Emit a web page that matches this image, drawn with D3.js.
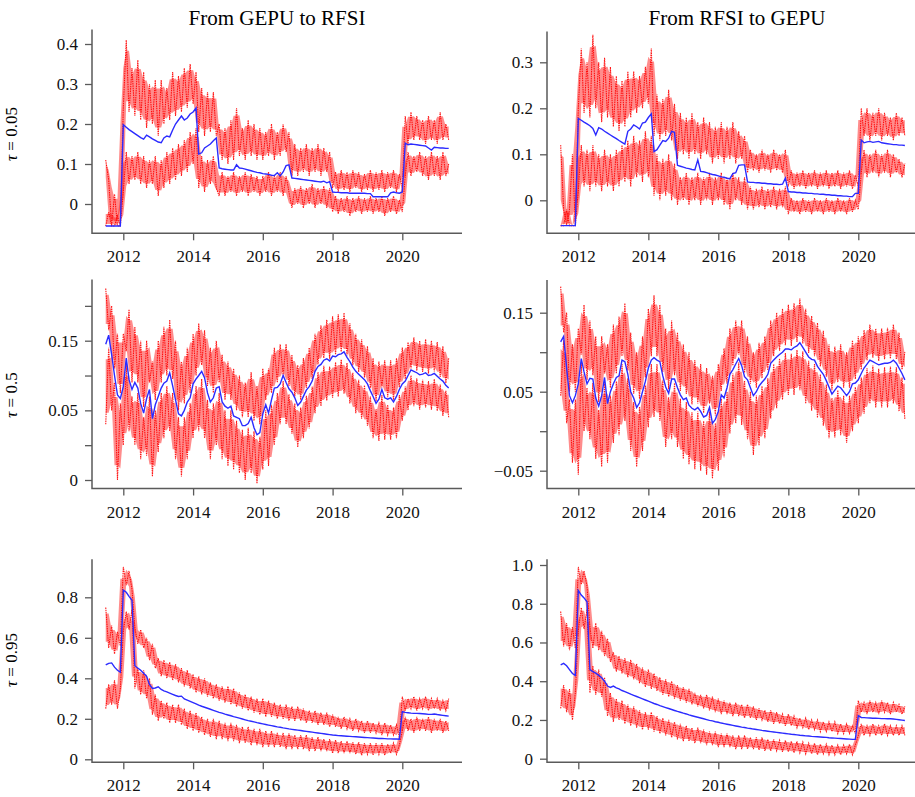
<!DOCTYPE html>
<html>
<head>
<meta charset="utf-8">
<script src="https://cdn.jsdelivr.net/npm/d3@7"></script>
<style>
  body { margin: 0; background: #fff; }
  text { font-family: "Liberation Serif", "Times New Roman", serif; }
</style>
</head>
<body>
<svg id="chart" width="915" height="797"></svg>
<script>
// monthly observations, Jul 2011 .. May 2021
var months = d3.timeMonth.range(new Date(2011, 6, 1), new Date(2021, 5, 1));
var colTitles = ["From GEPU to RFSI", "From RFSI to GEPU"];
var rowTaus = ["0.05", "0.5", "0.95"];
var yearTicks = [2012, 2014, 2016, 2018, 2020];

// ---- From GEPU to RFSI, tau = 0.05
var gr05Mid = [-.055,-.055,-.055,-.055,-.055,-.055,
  .198,.192,.186,.181,.176,.171, .166,.162,.172,.168,.163,.159,
  .155,.153,.165,.17,.168,.185, .2,.21,.22,.21,.215,.225,
  .23,.24,.125,.128,.14,.145, .15,.158,.165,.09,.088,.087,
  .086,.085,.085,.098,.09,.089, .087,.085,.083,.081,.079,.078,
  .076,.075,.074,.072,.071,.078, .07,.08,.096,.098,.065,.064,
  .063,.062,.061,.06,.059,.058, .057,.056,.055,.057,.053,.056,
  .03,.029,.029,.028,.028,.028, .027,.027,.027,.027,.027,.027,
  .026,.026,.018,.018,.018,.018, .018,.018,.028,.03,.028,.027,
  .03,.152,.148,.15,.149,.148, .147,.146,.145,.14,.135,.142,
  .141,.14,.14,.139,.139];
var gr05Hi = [.11,.06,-.055,.025,-.055,-.055,
  .24,.41,.23,.34,.22,.36, .21,.33,.19,.3,.2,.31,
  .17,.31,.2,.29,.21,.33, .22,.32,.23,.34,.24,.35,
  .25,.33,.18,.29,.17,.28, .18,.28,.17,.2,.11,.19,
  .1,.21,.11,.24,.12,.19, .11,.21,.12,.2,.11,.19,
  .11,.18,.12,.2,.11,.18, .12,.2,.13,.18,.07,.15,
  .07,.14,.08,.15,.07,.14, .08,.15,.07,.14,.08,.13,
  .04,.08,.03,.085,.035,.08, .03,.085,.04,.08,.03,.075,
  .035,.085,.03,.08,.035,.085, .03,.08,.04,.085,.03,.075,
  .04,.22,.15,.23,.16,.22, .16,.21,.15,.22,.16,.21,
  .15,.23,.16,.2,.16];
var gr05Lo = [-.055,-.02,-.055,-.055,-.03,-.055,
  .03,.13,.05,.12,.06,.13, .05,.12,.04,.11,.05,.12,
  .02,.11,.04,.13,.05,.14, .06,.15,.07,.16,.08,.18,
  .1,.19,.04,.12,.03,.11, .05,.12,.04,.02,.08,.02,
  .07,.03,.08,.02,.07,.03, .08,.02,.075,.03,.07,.02,
  .07,.03,.08,.02,.07,.03, .08,.02,.07,.03,-.01,.04,
  0,.045,-.01,.04,0,.05, -.01,.04,0,.045,-.01,.04,
  -.02,.02,-.025,.015,-.02,.02, -.03,.015,-.02,.02,-.025,.015,
  -.02,.02,-.025,.015,-.02,.02, -.03,.015,-.02,.02,-.025,.01,
  -.02,.07,.13,.07,.12,.08, .13,.07,.12,.06,.13,.07,
  .12,.06,.13,.07,.1];
var gr05Ticks = [0, 0.1, 0.2, 0.3, 0.4];
var gr05Labels = ["0", "0.1", "0.2", "0.3", "0.4"];

// ---- From RFSI to GEPU, tau = 0.05
var rg05Mid = [-.055,-.055,-.055,-.055,-.055,-.055,
  .178,.174,.17,.166,.162,.156, .142,.158,.155,.15,.146,.142,
  .138,.134,.13,.126,.122,.15, .155,.164,.16,.155,.168,.17,
  .18,.188,.106,.11,.12,.13, .128,.135,.15,.148,.076,.074,
  .072,.07,.069,.067,.066,.088, .063,.062,.06,.058,.056,.055,
  .053,.051,.05,.048,.047,.058, .06,.076,.077,.077,.04,.039,
  .039,.038,.038,.037,.037,.036, .036,.035,.035,.034,.035,.048,
  .019,.018,.018,.017,.017,.016, .016,.015,.015,.014,.014,.013,
  .013,.012,.012,.011,.011,.01, .01,.009,.009,.008,.008,.015,
  .015,.131,.125,.127,.128,.126, .127,.128,.125,.124,.123,.122,
  .121,.121,.12,.12,.119];
var rg05Hi = [.12,-.02,-.055,-.02,.1,-.055,
  .2,.33,.19,.3,.18,.36, .2,.3,.17,.31,.18,.29,
  .16,.27,.15,.26,.16,.28, .18,.28,.19,.27,.2,.29,
  .21,.33,.14,.23,.13,.22, .14,.24,.13,.21,.09,.19,
  .1,.18,.09,.19,.1,.17, .09,.18,.1,.17,.08,.16,
  .09,.17,.08,.16,.09,.17, .08,.15,.09,.14,.06,.11,
  .065,.1,.06,.11,.065,.1, .06,.11,.065,.1,.06,.11,
  .03,.065,.025,.06,.03,.065, .025,.06,.03,.065,.025,.06,
  .03,.065,.025,.06,.03,.065, .025,.06,.03,.065,.025,.055,
  .03,.2,.14,.2,.13,.19, .14,.2,.13,.19,.14,.18,
  .13,.19,.14,.18,.14];
var rg05Lo = [-.055,-.055,-.02,-.055,-.055,-.055,
  .02,.12,.03,.11,.02,.12, .03,.1,.02,.11,.03,.1,
  .02,.11,.03,.12,.04,.13, .03,.14,.05,.13,.04,.15,
  .05,.14,.01,.1,0,.09, .01,.1,0,.08,-.01,.05,
  0,.06,-.01,.05,0,.06, -.01,.05,0,.06,-.01,.05,
  0,.06,-.01,.05,-.02,.06, 0,.05,-.01,.05,-.02,.03,
  -.02,.025,-.015,.03,-.02,.025, -.015,.03,-.02,.025,-.015,.03,
  -.03,.005,-.025,0,-.03,.005, -.025,0,-.03,.005,-.025,0,
  -.03,.005,-.025,0,-.03,.005, -.025,0,-.03,.005,-.025,0,
  -.02,.06,.11,.05,.1,.06, .11,.05,.1,.06,.11,.05,
  .1,.06,.09,.05,.08];
var rg05Ticks = [0, 0.1, 0.2, 0.3];
var rg05Labels = ["0", "0.1", "0.2", "0.3"];

// ---- From GEPU to RFSI, tau = 0.5
var gr50Mid = [.145,.158,.13,.1,.072,.067,
  .084,.125,.094,.08,.09,.082, .06,.046,.067,.08,.038,.058,
  .07,.082,.089,.092,.104,.085, .065,.045,.042,.05,.062,.068,
  .088,.095,.1,.106,.097,.075, .062,.068,.082,.084,.062,.056,
  .053,.056,.042,.04,.038,.028, .028,.031,.04,.025,.015,.018,
  .045,.058,.046,.065,.082,.083, .088,.1,.09,.081,.076,.068,
  .057,.062,.07,.079,.084,.092, .106,.113,.116,.122,.124,.121,
  .128,.127,.13,.131,.134,.126, .12,.112,.106,.102,.098,.094,
  .088,.078,.07,.06,.066,.08, .068,.066,.068,.062,.07,.08,
  .088,.092,.1,.108,.106,.104, .101,.102,.104,.1,.101,.103,
  .099,.095,.092,.086,.082];
var gr50Hi = [.225,.165,.2,.11,.16,.075,
  .16,.135,.195,.09,.17,.09, .15,.055,.15,.09,.12,.065,
  .15,.09,.17,.1,.18,.095, .15,.05,.12,.06,.14,.075,
  .16,.1,.175,.115,.165,.085, .14,.075,.15,.09,.13,.065,
  .12,.065,.11,.05,.1,.04, .09,.04,.105,.035,.085,.03,
  .11,.065,.11,.075,.14,.09, .145,.1,.145,.085,.13,.07,
  .115,.065,.125,.082,.14,.095, .16,.116,.172,.125,.18,.124,
  .185,.13,.188,.134,.19,.129, .175,.115,.16,.105,.152,.097,
  .142,.082,.125,.063,.12,.083, .122,.069,.122,.065,.125,.083,
  .14,.095,.148,.11,.155,.107, .15,.105,.152,.103,.15,.106,
  .148,.098,.142,.089,.125];
var gr50Lo = [.03,.14,.05,.09,-.05,.06,
  0,.115,.02,.07,0,.075, -.02,.04,-.015,.07,-.045,.05,
  -.01,.075,.01,.085,.02,.075, -.02,.04,-.045,.04,-.02,.06,
  .01,.085,.02,.095,.01,.065, -.02,.06,0,.075,-.02,.05,
  -.03,.05,-.035,.035,-.04,.022, -.05,.025,-.04,.02,-.055,.012,
  -.035,.05,-.03,.058,0,.075, .03,.092,.03,.073,.016,.06,
  -.003,.054,.01,.071,.024,.084, .046,.105,.056,.114,.064,.113,
  .068,.119,.07,.123,.074,.118, .06,.104,.046,.094,.038,.086,
  .028,.07,.01,.052,.006,.072, .008,.058,.008,.054,.01,.072,
  .035,.084,.05,.1,.056,.096, .051,.094,.054,.092,.051,.095,
  .049,.087,.042,.078,.04];
var gr50Ticks = [-0.05, 0, 0.05, 0.1, 0.15, 0.2];
var gr50Labels = ["0", "", "0.05", "", "0.15", ""];

// ---- From RFSI to GEPU, tau = 0.5
var rg50Mid = [.113,.12,.08,.045,.036,.045,
  .06,.092,.075,.06,.067,.066, .042,.032,.045,.068,.035,.05,
  .06,.068,.07,.09,.088,.072, .05,.042,.03,.036,.05,.063,
  .08,.09,.093,.09,.088,.07, .056,.048,.066,.066,.055,.046,
  .04,.042,.033,.029,.027,.03, .025,.018,.02,.03,.01,.015,
  .025,.046,.042,.055,.072,.078, .085,.092,.083,.069,.065,.055,
  .045,.05,.057,.062,.066,.072, .086,.09,.094,.097,.1,.104,
  .104,.103,.106,.108,.112,.106, .1,.094,.091,.09,.082,.077,
  .072,.064,.056,.047,.052,.057, .055,.05,.045,.05,.06,.061,
  .065,.073,.08,.085,.09,.088, .086,.084,.085,.086,.086,.087,
  .09,.086,.08,.073,.065];
var rg50Hi = [.183,.125,.15,.05,.11,.05,
  .13,.097,.16,.065,.14,.071, .12,.037,.12,.073,.11,.055,
  .135,.073,.145,.095,.162,.077, .125,.047,.1,.041,.12,.068,
  .155,.095,.172,.095,.16,.075, .13,.053,.14,.071,.125,.051,
  .11,.047,.1,.034,.09,.035, .085,.023,.08,.035,.07,.02,
  .085,.051,.105,.06,.13,.083, .14,.097,.14,.074,.12,.06,
  .1,.055,.112,.067,.12,.077, .14,.095,.15,.102,.155,.109,
  .16,.108,.162,.113,.168,.111, .155,.099,.146,.095,.137,.082,
  .127,.069,.11,.052,.107,.062, .11,.055,.1,.055,.115,.066,
  .12,.078,.128,.09,.135,.093, .13,.089,.13,.091,.131,.092,
  .135,.091,.125,.078,.1];
var rg50Lo = [.045,.115,.01,.04,-.04,.04,
  -.055,.087,0,.055,-.01,.061, -.035,.027,-.045,.063,-.04,.045,
  -.015,.063,-.005,.085,.013,.067, -.025,.037,-.045,.031,-.025,.058,
  .005,.085,.018,.085,.013,.065, -.02,.043,-.01,.061,-.02,.041,
  -.035,.037,-.042,.024,-.048,.025, -.05,.013,-.055,.025,-.06,.01,
  -.05,.041,-.033,.05,-.003,.073, .01,.087,.008,.064,-.01,.05,
  -.03,.045,-.018,.057,-.009,.067, .016,.085,.029,.092,.04,.099,
  .046,.098,.046,.103,.052,.101, .035,.089,.026,.085,.017,.072,
  .007,.059,-.009,.042,-.008,.052, -.005,.045,-.015,.045,0,.056,
  .01,.068,.022,.08,.035,.083, .03,.079,.03,.081,.03,.082,
  .035,.081,.025,.068,.015];
var rg50Ticks = [-0.05, 0, 0.05, 0.1, 0.15];
var rg50Labels = ["\u22120.05", "", "0.05", "", "0.15"];

// ---- From GEPU to RFSI, tau = 0.95
var gr95Mid = [.466,.474,.476,.455,.44,.43,
  .836,.825,.805,.785,.462,.45, .44,.425,.41,.37,.35,.352,
  .358,.345,.338,.333,.327,.321, .315,.31,.312,.298,.292,.286,
  .28,.274,.268,.262,.257,.252, .247,.242,.237,.232,.228,.223,
  .219,.215,.211,.207,.203,.199, .195,.191,.188,.185,.181,.178,
  .175,.172,.169,.166,.163,.16, .158,.155,.153,.15,.148,.146,
  .144,.142,.14,.138,.136,.134, .132,.13,.128,.126,.124,.122,
  .12,.119,.117,.116,.115,.114, .113,.112,.111,.11,.109,.108,
  .107,.106,.105,.104,.103,.103, .102,.101,.101,.1,.1,.099,
  .235,.232,.23,.228,.227,.227, .226,.225,.224,.222,.222,.224,
  .221,.219,.217,.215,.213];
var gr95Hi = [.75,.55,.66,.52,.63,.56,
  .95,.86,.93,.84,.65,.57, .64,.55,.6,.49,.57,.45,
  .5,.41,.49,.4,.48,.39, .47,.38,.45,.36,.44,.35,
  .42,.33,.41,.32,.4,.31, .38,.3,.37,.29,.36,.28,
  .36,.27,.35,.26,.33,.25, .32,.24,.31,.23,.3,.22,
  .3,.21,.29,.21,.28,.2, .27,.2,.27,.19,.26,.19,
  .26,.19,.25,.18,.24,.18, .24,.17,.23,.17,.23,.16,
  .22,.16,.21,.15,.21,.15, .2,.14,.2,.14,.19,.13,
  .19,.13,.18,.13,.18,.12, .18,.12,.17,.12,.17,.11,
  .31,.24,.3,.25,.31,.24, .3,.25,.31,.24,.3,.25,
  .3,.24,.29,.24,.3];
var gr95Lo = [.25,.37,.27,.39,.25,.35,
  .63,.73,.64,.74,.35,.45, .32,.44,.3,.4,.22,.32,
  .19,.29,.2,.28,.18,.27, .18,.27,.17,.25,.15,.24,
  .14,.23,.13,.21,.12,.2, .11,.2,.1,.19,.1,.18,
  .09,.18,.09,.17,.08,.16, .08,.16,.07,.15,.07,.15,
  .06,.14,.06,.14,.06,.13, .06,.13,.05,.13,.05,.12,
  .05,.12,.05,.12,.04,.11, .04,.11,.04,.1,.04,.1,
  .03,.095,.03,.09,.03,.09, .03,.085,.025,.085,.02,.08,
  .025,.08,.02,.08,.025,.08, .02,.075,.03,.08,.025,.07,
  .14,.21,.14,.2,.13,.21, .14,.2,.14,.21,.13,.2,
  .14,.2,.13,.19,.14];
var gr95Ticks = [0, 0.2, 0.4, 0.6, 0.8];
var gr95Labels = ["0", "0.2", "0.4", "0.6", "0.8"];

// ---- From RFSI to GEPU, tau = 0.95
var rg95Mid = [.484,.492,.48,.46,.44,.43,
  .868,.845,.83,.81,.46,.45, .442,.43,.418,.4,.375,.368,
  .375,.366,.36,.352,.346,.34, .333,.327,.321,.315,.309,.303,
  .297,.291,.285,.28,.274,.269, .264,.259,.254,.249,.244,.24,
  .235,.231,.226,.222,.218,.214, .21,.206,.202,.198,.195,.191,
  .188,.184,.181,.178,.175,.172, .169,.166,.163,.161,.158,.156,
  .153,.151,.149,.146,.144,.142, .14,.138,.136,.134,.132,.13,
  .128,.126,.125,.123,.121,.12, .118,.117,.115,.114,.113,.112,
  .111,.11,.108,.107,.106,.105, .104,.103,.102,.101,.1,.1,
  .222,.213,.212,.211,.21,.209, .209,.208,.207,.207,.206,.206,
  .205,.203,.201,.199,.197];
var rg95Hi = [.76,.58,.7,.56,.68,.57,
  .99,.9,.97,.89,.68,.57, .7,.56,.66,.53,.62,.5,
  .55,.45,.53,.44,.52,.42, .51,.41,.49,.39,.47,.37,
  .46,.36,.44,.35,.42,.33, .41,.32,.4,.31,.38,.3,
  .37,.29,.36,.28,.34,.27, .33,.26,.33,.25,.32,.24,
  .31,.23,.3,.23,.29,.22, .29,.22,.28,.21,.28,.21,
  .27,.2,.26,.2,.25,.19, .25,.18,.24,.18,.23,.17,
  .23,.17,.22,.16,.21,.16, .21,.15,.2,.15,.2,.14,
  .19,.14,.19,.14,.19,.13, .18,.13,.18,.13,.17,.13,
  .3,.24,.29,.23,.3,.24, .29,.23,.3,.24,.29,.23,
  .29,.24,.28,.23,.27];
var rg95Lo = [.26,.38,.24,.36,.2,.34,
  .66,.78,.67,.77,.34,.48, .33,.46,.32,.42,.22,.34,
  .19,.31,.2,.3,.18,.28, .17,.27,.16,.25,.15,.24,
  .15,.24,.14,.22,.13,.21, .12,.2,.11,.19,.1,.18,
  .09,.17,.09,.16,.08,.16, .08,.15,.07,.14,.07,.14,
  .06,.13,.06,.13,.06,.12, .05,.12,.05,.12,.05,.11,
  .05,.11,.045,.11,.04,.1, .04,.1,.04,.095,.035,.095,
  .035,.09,.03,.09,.03,.085, .025,.08,.025,.08,.02,.075,
  .025,.075,.02,.07,.02,.07, .02,.07,.025,.075,.02,.07,
  .12,.18,.12,.17,.12,.18, .12,.17,.12,.18,.12,.17,
  .12,.17,.12,.17,.12];
var rg95Ticks = [0, 0.2, 0.4, 0.6, 0.8, 1.0];
var rg95Labels = ["0", "0.2", "0.4", "0.6", "0.8", "1.0"];

// layout (pixels)
var cols = [
  { axisX: 92, endX: 462, x2012: 123.3, x2020: 402.3, titleX: 277 },
  { axisX: 547, endX: 915, x2012: 578.3, x2020: 858.3, titleX: 737 }
];
var rows = [
  { labelY: 134, bottom: 233.3 },
  { labelY: 395, bottom: 488.5 },
  { labelY: 660, bottom: 762.3 }
];

var panels = [
  { row: 0, col: 0, mid: gr05Mid, hi: gr05Hi, lo: gr05Lo, ticks: gr05Ticks, labels: gr05Labels,
    top: 29.5, yv: [0, 0.4], yp: [204, 44] },
  { row: 0, col: 1, mid: rg05Mid, hi: rg05Hi, lo: rg05Lo, ticks: rg05Ticks, labels: rg05Labels,
    top: 31.5, yv: [0, 0.3], yp: [200.3, 62.3] },
  { row: 1, col: 0, mid: gr50Mid, hi: gr50Hi, lo: gr50Lo, ticks: gr50Ticks, labels: gr50Labels,
    top: 279.5, yv: [-0.05, 0.15], yp: [480, 340.7] },
  { row: 1, col: 1, mid: rg50Mid, hi: rg50Hi, lo: rg50Lo, ticks: rg50Ticks, labels: rg50Labels,
    top: 280, yv: [-0.05, 0.15], yp: [470.7, 312.7] },
  { row: 2, col: 0, mid: gr95Mid, hi: gr95Hi, lo: gr95Lo, ticks: gr95Ticks, labels: gr95Labels,
    top: 559.3, yv: [0, 0.8], yp: [759.3, 597.3] },
  { row: 2, col: 1, mid: rg95Mid, hi: rg95Hi, lo: rg95Lo, ticks: rg95Ticks, labels: rg95Labels,
    top: 559.3, yv: [0, 1.0], yp: [758.7, 565] }
];

var serif = "Liberation Serif, Times New Roman, serif";
var svg = d3.select("#chart");
var axisColor = "#5a5a5a";

// column titles
colTitles.forEach(function(t, i) {
  svg.append("text")
    .attr("x", cols[i].titleX)
    .attr("y", 25)
    .attr("text-anchor", "middle")
    .attr("font-family", serif)
    .style("font-size", "21px")
    .text(t);
});

// row labels (tau = ...)
rowTaus.forEach(function(t, i) {
  var lab = svg.append("text")
    .attr("transform", "translate(17," + rows[i].labelY + ") rotate(-90)")
    .attr("text-anchor", "middle")
    .attr("font-family", serif)
    .style("font-size", "17px");
  lab.append("tspan").style("font-style", "italic").text("\u03c4");
  lab.append("tspan").text(" = " + t);
});

panels.forEach(function(p) {
  var c = cols[p.col];
  var r = rows[p.row];
  var g = svg.append("g");

  var x = d3.scaleTime()
    .domain([new Date(2012, 0, 1), new Date(2020, 0, 1)])
    .range([c.x2012, c.x2020]);
  var y = d3.scaleLinear().domain(p.yv).range(p.yp);

  var n = months.length;
  var line = d3.line()
    .x(function(d, i) { return x(months[i]); })
    .y(function(d) { return y(d); });

  // dense core of a jagged bound: inner part of the neighbouring-month spread
  function core(vals) {
    function ext(i) {
      var w = vals.slice(Math.max(0, i - 1), i + 2);
      var lo = d3.min(w), hi = d3.max(w), pad = (hi - lo) * 0.15;
      return [lo + pad, hi - pad];
    }
    return d3.area()
      .x(function(d, i) { return x(months[i]); })
      .y0(function(d, i) { return y(ext(i)[0]); })
      .y1(function(d, i) { return y(ext(i)[1]); })
      (vals.slice(0, n));
  }

  // red bounds: shaded core + dotted jagged line
  [p.hi, p.lo].forEach(function(vals) {
    g.append("path")
      .attr("d", core(vals))
      .attr("fill", "#ff1a1a")
      .attr("fill-opacity", 0.5)
      .attr("stroke", "none");
    g.append("path")
      .attr("d", line(vals.slice(0, n)))
      .attr("fill", "none")
      .attr("stroke", "#ff0000")
      .attr("stroke-width", 1.1)
      .attr("stroke-dasharray", "1.5,0.8")
      .attr("opacity", 0.9);
  });

  // blue estimate
  g.append("path")
    .attr("d", line(p.mid.slice(0, n)))
    .attr("fill", "none")
    .attr("stroke", "#2b2bff")
    .attr("stroke-width", 1.4);

  // y axis
  var ya = g.append("g")
    .attr("transform", "translate(" + c.axisX + ",0)")
    .call(d3.axisLeft(y)
      .tickValues(p.ticks)
      .tickFormat(function(d, i) { return p.labels[i]; })
      .tickSize(7)
      .tickSizeOuter(0)
      .tickPadding(7));
  ya.attr("font-family", serif).attr("font-size", 17).attr("color", axisColor);
  ya.select(".domain").remove();
  ya.selectAll("text").attr("fill", "#111");
  ya.selectAll("line").attr("stroke-width", 1.3);

  // x axis
  var xa = g.append("g")
    .attr("transform", "translate(0," + r.bottom + ")")
    .call(d3.axisBottom(x)
      .tickValues(yearTicks.map(function(yr) { return new Date(yr, 0, 1); }))
      .tickFormat(d3.timeFormat("%Y"))
      .tickSize(7)
      .tickSizeOuter(0)
      .tickPadding(10));
  xa.attr("font-family", serif).attr("font-size", 17).attr("color", axisColor);
  xa.select(".domain").remove();
  xa.selectAll("text").attr("fill", "#111");
  xa.selectAll("line").attr("stroke-width", 1.3);

  // L-shaped frame
  g.append("path")
    .attr("d", "M" + c.axisX + "," + p.top + "V" + r.bottom + "H" + c.endX)
    .attr("fill", "none")
    .attr("stroke", axisColor)
    .attr("stroke-width", 1.5);
});
</script>
</body>
</html>
